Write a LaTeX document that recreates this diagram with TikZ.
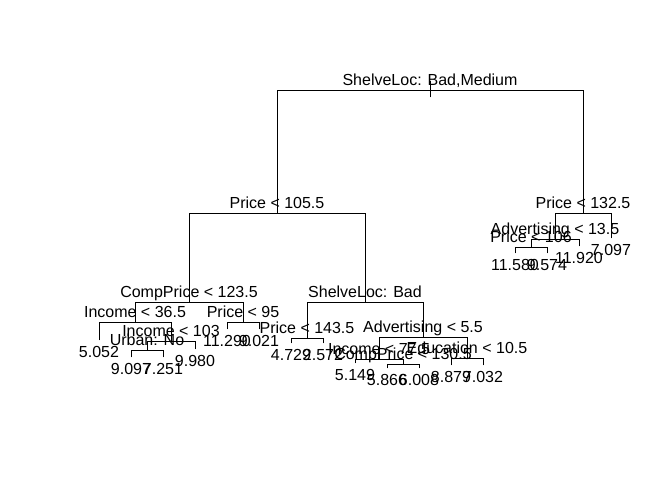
\documentclass[tikz,border=0pt]{standalone}
\usepackage{fontspec}
\setmainfont{Liberation Sans}
\begin{document}
\begin{tikzpicture}[x=1pt,y=-1pt,
  edge/.style={draw=black,line width=0.9pt,line cap=rect},
  splitlab/.style={inner sep=0pt,anchor=base,font=\fontsize{16}{19}\selectfont,text=black},
  leaflab/.style={inner sep=0pt,anchor=base,font=\fontsize{16}{19}\selectfont,text=black}]
\useasboundingbox (0,0) rectangle (672,480);
% internal nodes
\coordinate (root) at (430,90);
\coordinate (rtop) at (430,81);
\coordinate (rbot) at (430,97);
\coordinate (pA) at (277,213);
\coordinate (pB) at (583,213);
\coordinate (cpA) at (189,302);
\coordinate (slb) at (365,302);
\coordinate (incA) at (135,322);
\coordinate (p95) at (243,322);
\coordinate (incB) at (171,341);
\coordinate (urb) at (147,350);
\coordinate (pC) at (307,338);
\coordinate (advA) at (423,337);
\coordinate (incC) at (379,359);
\coordinate (cpB) at (403,364);
\coordinate (edu) at (467,358);
\coordinate (advB) at (555,239);
\coordinate (pD) at (531,247);
% leaves
\coordinate (l1) at (99,340);
\coordinate (l2) at (131,357);
\coordinate (l3) at (163,357);
\coordinate (l4) at (195,349);
\coordinate (l5) at (227,329);
\coordinate (l6) at (259,329);
\coordinate (l7) at (291,343);
\coordinate (l8) at (323,343);
\coordinate (l9) at (355,363);
\coordinate (l10) at (387,368);
\coordinate (l11) at (419,368);
\coordinate (l12) at (451,365);
\coordinate (l13) at (483,365);
\coordinate (l14) at (515,253);
\coordinate (l15) at (547,253);
\coordinate (l16) at (579,246);
\coordinate (l17) at (611,238);
% connectors
\draw[edge] (rtop) -- (rbot);
\draw[edge] (root) -| (pA); \draw[edge] (root) -| (pB);
\draw[edge] (pA) -| (cpA); \draw[edge] (pA) -| (slb);
\draw[edge] (cpA) -| (incA); \draw[edge] (cpA) -| (p95);
\draw[edge] (incA) -| (l1); \draw[edge] (incA) -| (incB);
\draw[edge] (incB) -| (urb); \draw[edge] (incB) -| (l4);
\draw[edge] (urb) -| (l2); \draw[edge] (urb) -| (l3);
\draw[edge] (p95) -| (l5); \draw[edge] (p95) -| (l6);
\draw[edge] (slb) -| (pC); \draw[edge] (slb) -| (advA);
\draw[edge] (pC) -| (l7); \draw[edge] (pC) -| (l8);
\draw[edge] (advA) -| (incC); \draw[edge] (advA) -| (edu);
\draw[edge] (incC) -| (l9); \draw[edge] (incC) -| (cpB);
\draw[edge] (cpB) -| (l10); \draw[edge] (cpB) -| (l11);
\draw[edge] (edu) -| (l12); \draw[edge] (edu) -| (l13);
\draw[edge] (pB) -| (advB); \draw[edge] (pB) -| (l17);
\draw[edge] (advB) -| (pD); \draw[edge] (advB) -| (l16);
\draw[edge] (pD) -| (l14); \draw[edge] (pD) -| (l15);
% split labels
\node[splitlab] (troot) at ([yshift=4.5pt]root) {ShelveLoc: Bad,Medium};
\node[splitlab] (tpA) at ([yshift=4.5pt]pA) {Price < 105.5};
\node[splitlab] (tpB) at ([yshift=4.5pt]pB) {Price < 132.5};
\node[splitlab] (tcpA) at ([yshift=4.5pt]cpA) {CompPrice < 123.5};
\node[splitlab] (tslb) at ([yshift=4.5pt]slb) {ShelveLoc: Bad};
\node[splitlab] (tincA) at ([yshift=4.5pt]incA) {Income < 36.5};
\node[splitlab] (tp95) at ([yshift=4.5pt]p95) {Price < 95};
\node[splitlab] (tincB) at ([yshift=4.5pt]incB) {Income < 103};
\node[splitlab] (turb) at ([yshift=4.5pt]urb) {Urban: No};
\node[splitlab] (tpC) at ([yshift=4.5pt]pC) {Price < 143.5};
\node[splitlab] (tadvA) at ([yshift=4.5pt]advA) {Advertising < 5.5};
\node[splitlab] (tincC) at ([yshift=4.5pt]incC) {Income < 77.5};
\node[splitlab] (tcpB) at ([yshift=4.5pt]cpB) {CompPrice < 130.5};
\node[splitlab] (tedu) at ([yshift=4.5pt]edu) {Education < 10.5};
\node[splitlab] (tadvB) at ([yshift=4.5pt]advB) {Advertising < 13.5};
\node[splitlab] (tpD) at ([yshift=4.5pt]pD) {Price < 106};
% leaf labels
\node[leaflab] (t1) at ([yshift=-17pt]l1) {5.052};
\node[leaflab] (t2) at ([yshift=-17pt]l2) {9.097};
\node[leaflab] (t3) at ([yshift=-17pt]l3) {7.251};
\node[leaflab] (t4) at ([yshift=-17pt]l4) {9.980};
\node[leaflab] (t5) at ([yshift=-17pt]l5) {11.290};
\node[leaflab] (t6) at ([yshift=-17pt]l6) {9.021};
\node[leaflab] (t7) at ([yshift=-17pt]l7) {4.729};
\node[leaflab] (t8) at ([yshift=-17pt]l8) {2.572};
\node[leaflab] (t9) at ([yshift=-17pt]l9) {5.149};
\node[leaflab] (t10) at ([yshift=-17pt]l10) {5.866};
\node[leaflab] (t11) at ([yshift=-17pt]l11) {6.008};
\node[leaflab] (t12) at ([yshift=-17pt]l12) {8.879};
\node[leaflab] (t13) at ([yshift=-17pt]l13) {7.032};
\node[leaflab] (t14) at ([yshift=-17pt]l14) {11.580};
\node[leaflab] (t15) at ([yshift=-17pt]l15) {9.574};
\node[leaflab] (t16) at ([yshift=-17pt]l16) {11.920};
\node[leaflab] (t17) at ([yshift=-17pt]l17) {7.097};
\end{tikzpicture}
\end{document}
